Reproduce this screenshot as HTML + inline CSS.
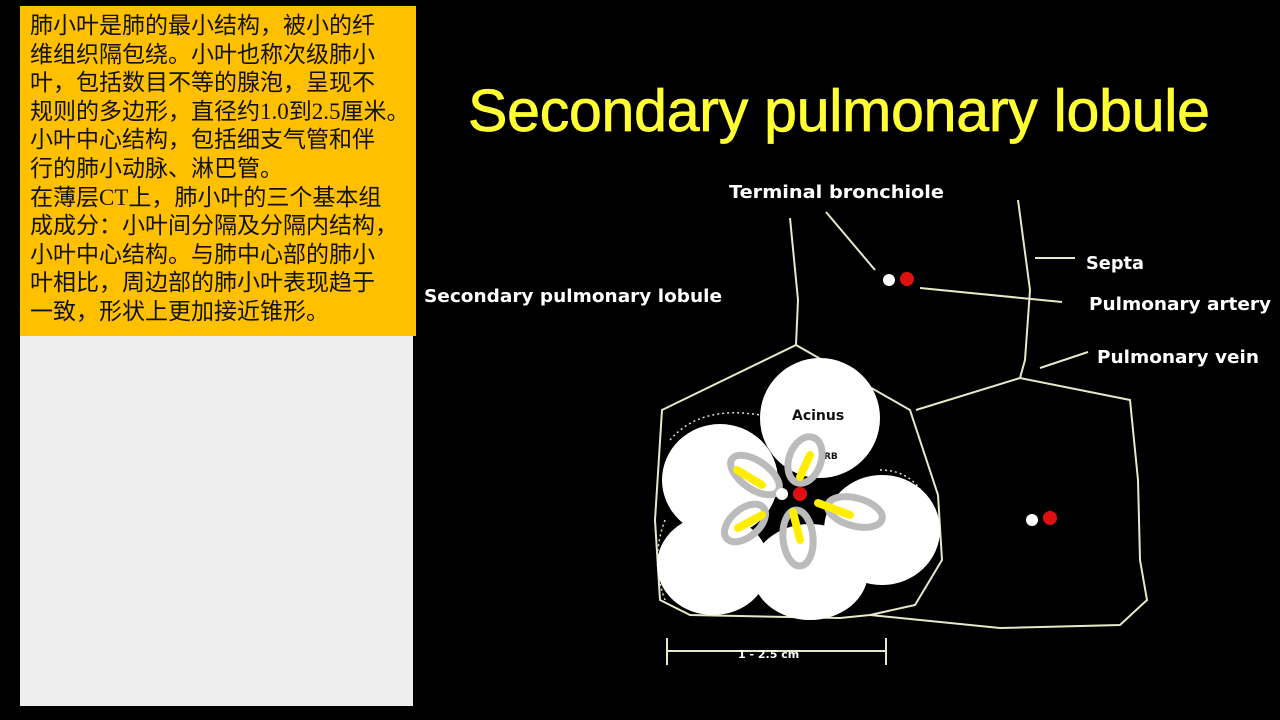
<!DOCTYPE html>
<html><head><meta charset="utf-8"><style>
html,body{margin:0;padding:0;background:#000;width:1280px;height:720px;overflow:hidden}
#yb{position:absolute;left:20px;top:6px;width:396px;height:330px;background:#ffc000}
#yb div{position:absolute;left:10px;top:6px;width:400px;font-family:"Liberation Serif","Noto Sans CJK SC",sans-serif;font-size:23px;line-height:28.6px;color:#111;white-space:nowrap}
#gb{position:absolute;left:20px;top:336px;width:393px;height:370px;background:#eeeeee}
svg{position:absolute;left:0;top:0}
</style></head><body>
<div id="yb"><div>肺小叶是肺的最小结构，被小的纤<br>维组织隔包绕。小叶也称次级肺小<br>叶，包括数目不等的腺泡，呈现不<br>规则的多边形，直径约1.0到2.5厘米。<br>小叶中心结构，包括细支气管和伴<br>行的肺小动脉、淋巴管。<br>在薄层CT上，肺小叶的三个基本组<br>成成分：小叶间分隔及分隔内结构，<br>小叶中心结构。与肺中心部的肺小<br>叶相比，周边部的肺小叶表现趋于<br>一致，形状上更加接近锥形。</div></div>
<div id="gb"></div>
<svg width="1280" height="720" xmlns="http://www.w3.org/2000/svg">
<text x="468" y="131" fill="#ffff33" stroke="#ffff33" stroke-width="0.8" font-family="Liberation Sans,sans-serif" font-size="59" textLength="742">Secondary pulmonary lobule</text>
<g fill="#fff" font-family="DejaVu Sans,sans-serif" font-weight="bold" font-size="18" lengthAdjust="spacingAndGlyphs">
<text x="729" y="198" textLength="215" lengthAdjust="spacingAndGlyphs">Terminal  bronchiole</text>
<text x="1086" y="269" textLength="58" lengthAdjust="spacingAndGlyphs">Septa</text>
<text x="1089" y="310" textLength="182" lengthAdjust="spacingAndGlyphs">Pulmonary artery</text>
<text x="1097" y="363" textLength="162" lengthAdjust="spacingAndGlyphs">Pulmonary vein</text>
<text x="424" y="302" textLength="298" lengthAdjust="spacingAndGlyphs">Secondary pulmonary lobule</text>
</g>
<g stroke="#e8e8c8" stroke-width="2" fill="none">
<path d="M796 345 L910 410 L938 495 L942 560 L915 605 L870 615 L840 618 L690 615 L660 600 L655 520 L662 410 Z"/>
<path d="M790 218 L798 300 L796 345"/>
<path d="M916 410 L1020 378 L1130 400 L1138 480 L1140 560 L1147 600 L1120 625 L1000 628 L870 615"/>
<path d="M1018 200 L1030 290 L1025 360 L1020 378"/>
<path d="M826 212 L875 270"/>
<path d="M1035 258 L1075 258"/>
<path d="M920 288 L1062 302"/>
<path d="M1040 368 L1088 352"/>
<path d="M667 651 L886 651 M667 638 L667 665 M886 638 L886 665"/>
</g>
<text x="738" y="658" fill="#fff" font-family="DejaVu Sans,sans-serif" font-weight="bold" font-size="11">1 - 2.5  cm</text>
<circle cx="889" cy="280" r="6" fill="#fff"/><circle cx="907" cy="279" r="7" fill="#e01010"/>
<circle cx="1032" cy="520" r="6" fill="#fff"/><circle cx="1050" cy="518" r="7" fill="#e01010"/>
<g fill="none" stroke="#ddd" stroke-width="1.5" stroke-dasharray="2 3">
<path d="M670 440 Q700 405 760 415"/><path d="M880 470 Q930 470 935 540"/><path d="M665 520 Q650 560 665 600"/>
</g>
<g fill="#fff">
<circle cx="820" cy="418" r="60"/>
<ellipse cx="720" cy="480" rx="58" ry="56"/>
<ellipse cx="713" cy="565" rx="56" ry="50"/>
<ellipse cx="810" cy="572" rx="58" ry="48"/>
<ellipse cx="882" cy="530" rx="58" ry="55"/>
</g>
<text x="792" y="420" fill="#111" font-family="DejaVu Sans,sans-serif" font-weight="bold" font-size="14">Acinus</text>
<text x="824" y="459" fill="#111" font-family="DejaVu Sans,sans-serif" font-weight="bold" font-size="9">RB</text>
<g fill="none" stroke="#bbb" stroke-width="7">
<ellipse cx="805" cy="460" rx="16" ry="24" transform="rotate(20 805 460)"/>
<ellipse cx="755" cy="475" rx="14" ry="28" transform="rotate(-55 755 475)"/>
<ellipse cx="745" cy="523" rx="14" ry="24" transform="rotate(50 745 523)"/>
<ellipse cx="798" cy="538" rx="15" ry="28" transform="rotate(-5 798 538)"/>
<ellipse cx="855" cy="512" rx="14" ry="28" transform="rotate(-75 855 512)"/>
</g>
<g stroke="#ffee00" stroke-width="8" stroke-linecap="round">
<path d="M810 455 L800 477"/><path d="M737 470 L762 485"/><path d="M738 528 L762 515"/>
<path d="M793 512 L800 540"/><path d="M818 503 L850 515"/>
</g>
<circle cx="782" cy="494" r="6" fill="#fff"/><circle cx="800" cy="494" r="7" fill="#e01010"/>
</svg>
</body></html>
